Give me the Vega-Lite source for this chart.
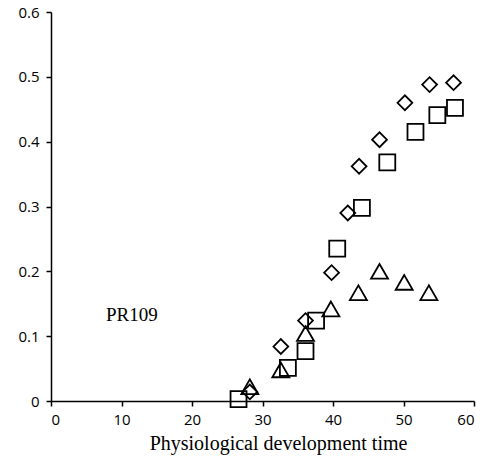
{
  "$schema": "https://vega.github.io/schema/vega-lite/v6.json",
  "autosize": "none",
  "width": 423,
  "height": 389,
  "padding": {"left": 51, "top": 12, "right": 10, "bottom": 61},
  "background": "white",
  "config": {"view": {"stroke": null}},
  "datasets": {
    "points": [
      {"series": "D", "x": 28.2, "y": 0.014},
      {"series": "D", "x": 32.6, "y": 0.084},
      {"series": "D", "x": 36.1, "y": 0.124},
      {"series": "D", "x": 39.8, "y": 0.198},
      {"series": "D", "x": 42.1, "y": 0.29},
      {"series": "D", "x": 43.7, "y": 0.362},
      {"series": "D", "x": 46.6, "y": 0.403},
      {"series": "D", "x": 50.2, "y": 0.46},
      {"series": "D", "x": 53.7, "y": 0.488},
      {"series": "D", "x": 57.1, "y": 0.491},
      {"series": "S", "x": 26.6, "y": 0.003},
      {"series": "S", "x": 33.6, "y": 0.051},
      {"series": "S", "x": 36.1, "y": 0.077},
      {"series": "S", "x": 37.6, "y": 0.124},
      {"series": "S", "x": 40.6, "y": 0.235},
      {"series": "S", "x": 44.1, "y": 0.298},
      {"series": "S", "x": 47.7, "y": 0.368},
      {"series": "S", "x": 51.7, "y": 0.415},
      {"series": "S", "x": 54.8, "y": 0.441},
      {"series": "S", "x": 57.3, "y": 0.452},
      {"series": "T", "x": 28.2, "y": 0.022},
      {"series": "T", "x": 32.6, "y": 0.048},
      {"series": "T", "x": 36.1, "y": 0.104},
      {"series": "T", "x": 39.7, "y": 0.142},
      {"series": "T", "x": 43.6, "y": 0.167},
      {"series": "T", "x": 46.6, "y": 0.2},
      {"series": "T", "x": 50.1, "y": 0.183},
      {"series": "T", "x": 53.6, "y": 0.167}
    ],
    "labels": [
      {"x": 7.8, "y": 0.133, "text": "PR109"}
    ]
  },
  "layer": [
    {
      "data": {"name": "points"},
      "mark": {"type": "point", "filled": false, "stroke": "black", "strokeWidth": 1.8, "opacity": 1},
      "encoding": {
        "x": {
          "field": "x", "type": "quantitative",
          "scale": {"domain": [0, 60], "nice": false, "zero": false},
          "axis": {
            "values": [0, 10, 20, 30, 40, 50, 60],
            "grid": false, "domainColor": "black", "domainWidth": 1.5,
            "tickColor": "black", "tickSize": 5, "tickWidth": 1.5,
            "labelFont": "Open Sans", "labelFontSize": 15, "labelColor": "black", "labelPadding": 6,
            "title": "Physiological development time",
            "titleFont": "Liberation Serif", "titleFontSize": 20, "titleFontWeight": "normal",
            "titleColor": "black", "titlePadding": 6, "titleX": 227, "titleAlign": "center"
          }
        },
        "y": {
          "field": "y", "type": "quantitative",
          "scale": {"domain": [0, 0.6], "nice": false},
          "axis": {
            "values": [0, 0.1, 0.2, 0.3, 0.4, 0.5, 0.6],
            "format": ".1~f",
            "grid": false, "domainColor": "black", "domainWidth": 1.5,
            "tickColor": "black", "tickSize": 5, "tickWidth": 1.5,
            "labelFont": "Open Sans", "labelFontSize": 15, "labelColor": "black", "labelPadding": 7,
            "title": null
          }
        },
        "shape": {
          "field": "series", "type": "nominal",
          "scale": {"domain": ["D", "S", "T"], "range": ["diamond", "square", "triangle-up"]},
          "legend": null
        },
        "size": {
          "field": "series", "type": "nominal",
          "scale": {"domain": ["D", "S", "T"], "range": [220, 290, 300]},
          "legend": null
        }
      }
    },
    {
      "data": {"name": "labels"},
      "mark": {"type": "text", "align": "left", "baseline": "middle", "font": "Liberation Serif", "fontSize": 19, "color": "black"},
      "encoding": {
        "x": {"field": "x", "type": "quantitative"},
        "y": {"field": "y", "type": "quantitative"},
        "text": {"field": "text"}
      }
    }
  ]
}
